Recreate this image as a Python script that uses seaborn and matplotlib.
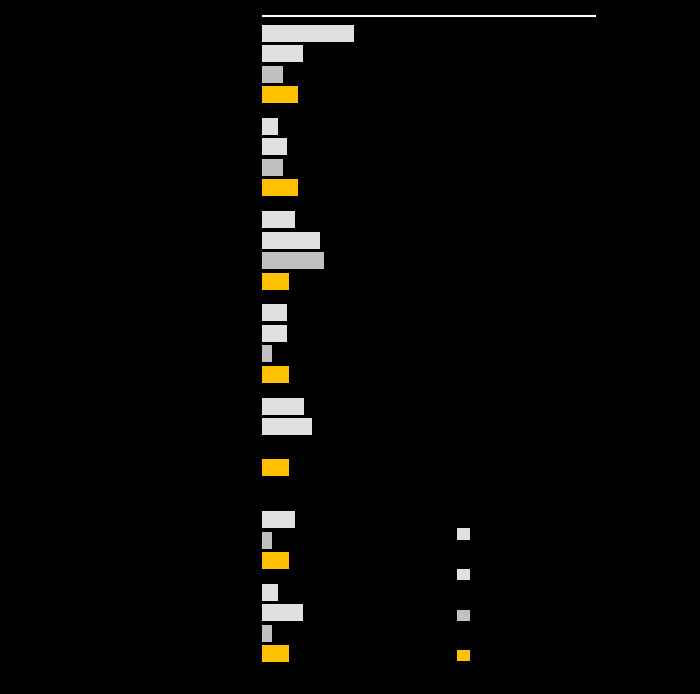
import numpy as np
import pandas as pd
import matplotlib
matplotlib.use("Agg")
import matplotlib.pyplot as plt
from matplotlib.patches import Patch
import seaborn as sns

categories = ["G1", "G2", "G3", "G4", "G5", "G6", "G7"]
series_a = [27.5, 4.8, 9.9, 7.5, 12.6, np.nan, 4.8]
series_b = [12.3, 7.5, 17.4, 7.5, 15.0, 9.9, 12.3]
series_c = [6.3, 6.3, 18.6, 3.0, np.nan, 3.0, 3.0]
series_d = [10.8, 10.8, 8.1, 8.1, 8.1, 8.1, 8.1]
series_names = ["A", "B", "C", "D"]
colors = ["#e0e0e0", "#e0e0e0", "#c0c0c0", "#ffc000"]

rows = []
for name, vals in zip(series_names, [series_a, series_b, series_c, series_d]):
    for cat, v in zip(categories, vals):
        rows.append({"category": cat, "series": name, "value": v})
df = pd.DataFrame(rows)

sns.set_theme(style="white")
fig = plt.figure(figsize=(7, 6.94), dpi=100, facecolor="black")
ax = fig.add_axes([262/700, 1-670.7/694, (596-262)/700, (670.7-16.5)/694])
ax.set_facecolor("black")

sns.barplot(data=df, y="category", x="value", hue="series", order=categories,
            hue_order=series_names, palette=colors, orient="h", width=0.88,
            gap=0.17, ax=ax, legend=False, saturation=1, linewidth=0)

ax.set_xlim(0, 100)
ax.set_ylim(6.51, -0.51)
for s in ["left", "right", "bottom"]:
    ax.spines[s].set_visible(False)
ax.spines["top"].set_visible(True)
ax.spines["top"].set_color("white")
ax.spines["top"].set_linewidth(1.5)
ax.spines["top"].set_capstyle("butt")
ax.set_xticks([])
ax.set_yticks([])
ax.set_xlabel("")
ax.set_ylabel("")

handles = [Patch(facecolor=c, edgecolor="none") for c in colors]
fs = 12 / (100/72)
fig.legend(handles, ["", "", "", ""], loc="center left",
           bbox_to_anchor=(457/700, 1-595.5/694), bbox_transform=fig.transFigure,
           frameon=False, fontsize=fs, handlelength=1.05, handleheight=1.05,
           labelspacing=2.3, borderpad=0, borderaxespad=0, handletextpad=0)

fig.savefig("out.png", dpi=100, facecolor="black")
